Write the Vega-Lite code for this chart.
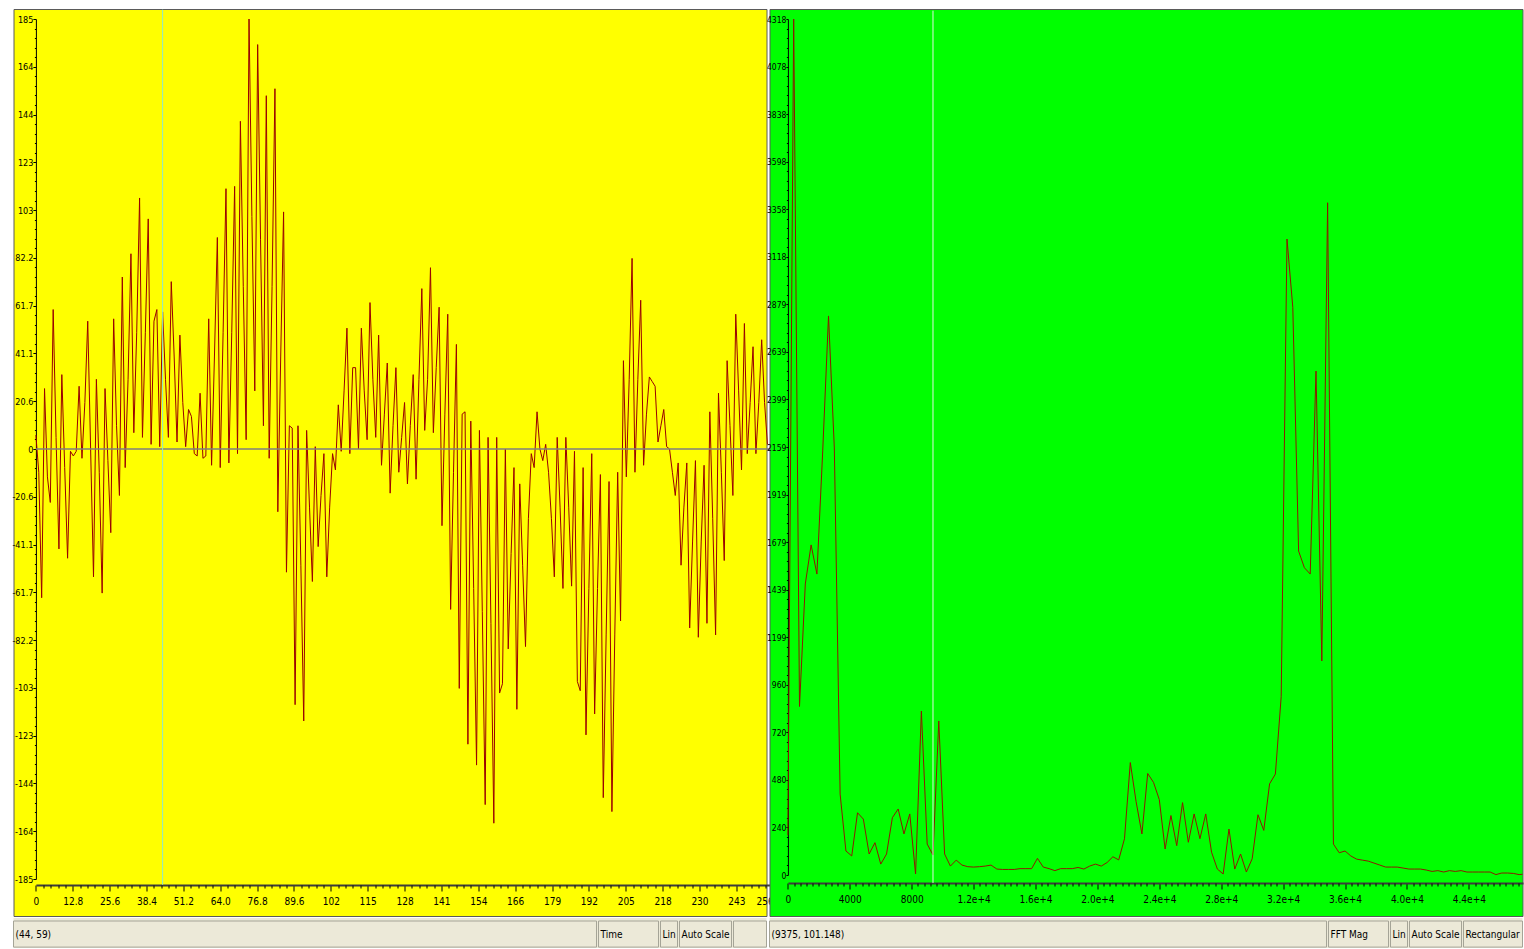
{
  "$schema": "https://vega.github.io/schema/vega-lite/v6.json",
  "background": "white",
  "padding": {"left": 10.5, "top": 8, "right": 0, "bottom": 0},
  "autosize": {"type": "pad"},
  "bounds": "flush",
  "columns": 2,
  "spacing": {"row": 2, "column": 3},
  "config": {
    "axis": {"grid": false, "labelFont": "DejaVu Sans Condensed, DejaVu Sans, sans-serif", "labelFontSize": 10, "labelColor": "#000000", "tickColor": "#000000", "domainColor": "#000000", "labelFlush": false, "labelBound": false},
    "view": {"stroke": null}
  },
  "datasets": {
    "ts": [
      {"t":0,"v":6},{"t":1,"v":-10},{"t":2,"v":-64},{"t":3,"v":26},{"t":4,"v":-12},{"t":5,"v":-23},{"t":6,"v":60},{"t":7,"v":5},{"t":8,"v":-43},{"t":9,"v":32},
      {"t":10,"v":-8},{"t":11,"v":-47},{"t":12,"v":-1},{"t":13,"v":-3},{"t":14,"v":-1},{"t":15,"v":27},{"t":16,"v":-4},{"t":17,"v":20},{"t":18,"v":55},{"t":19,"v":0},
      {"t":20,"v":-55},{"t":21,"v":30},{"t":22,"v":-10},{"t":23,"v":-62},{"t":24,"v":26},{"t":25,"v":-5},{"t":26,"v":-36},{"t":27,"v":56},{"t":28,"v":10},{"t":29,"v":-20},
      {"t":30,"v":74},{"t":31,"v":-8},{"t":32,"v":30},{"t":33,"v":84},{"t":34,"v":7},{"t":35,"v":50},{"t":36,"v":108},{"t":37,"v":5},{"t":38,"v":50},{"t":39,"v":99},
      {"t":40,"v":2},{"t":41,"v":55},{"t":42,"v":60},{"t":43,"v":1},{"t":44,"v":59},{"t":45,"v":30},{"t":46,"v":5},{"t":47,"v":72},{"t":48,"v":40},{"t":49,"v":3},
      {"t":50,"v":49},{"t":51,"v":20},{"t":52,"v":1},{"t":53,"v":17},{"t":54,"v":14},{"t":55,"v":-2},{"t":56,"v":-3},{"t":57,"v":24},{"t":58,"v":-4},{"t":59,"v":-3},
      {"t":60,"v":56},{"t":61,"v":-7},{"t":62,"v":40},{"t":63,"v":91},{"t":64,"v":-8},{"t":65,"v":50},{"t":66,"v":112},{"t":67,"v":-6},{"t":68,"v":50},{"t":69,"v":113},
      {"t":70,"v":-2},{"t":71,"v":141},{"t":72,"v":70},{"t":73,"v":4},{"t":74,"v":185},{"t":75,"v":100},{"t":76,"v":25},{"t":77,"v":174},{"t":78,"v":90},{"t":79,"v":10},
      {"t":80,"v":152},{"t":81,"v":-4},{"t":82,"v":70},{"t":83,"v":155},{"t":84,"v":-27},{"t":85,"v":40},{"t":86,"v":102},{"t":87,"v":-53},{"t":88,"v":10},{"t":89,"v":9},
      {"t":90,"v":-110},{"t":91,"v":10},{"t":92,"v":-50},{"t":93,"v":-117},{"t":94,"v":8},{"t":95,"v":-25},{"t":96,"v":-57},{"t":97,"v":1},{"t":98,"v":-42},{"t":99,"v":-20},
      {"t":100,"v":-2},{"t":101,"v":-55},{"t":102,"v":-25},{"t":103,"v":-2},{"t":104,"v":-9},{"t":105,"v":19},{"t":106,"v":-1},{"t":107,"v":25},{"t":108,"v":52},{"t":109,"v":-2},
      {"t":110,"v":35},{"t":111,"v":35},{"t":112,"v":0},{"t":113,"v":52},{"t":114,"v":25},{"t":115,"v":4},{"t":116,"v":63},{"t":117,"v":30},{"t":118,"v":5},{"t":119,"v":49},
      {"t":120,"v":-7},{"t":121,"v":15},{"t":122,"v":37},{"t":123,"v":-19},{"t":124,"v":10},{"t":125,"v":35},{"t":126,"v":-10},{"t":127,"v":5},{"t":128,"v":20},{"t":129,"v":-15},
      {"t":130,"v":10},{"t":131,"v":32},{"t":132,"v":-13},{"t":133,"v":30},{"t":134,"v":69},{"t":135,"v":8},{"t":136,"v":30},{"t":137,"v":78},{"t":138,"v":7},{"t":139,"v":35},
      {"t":140,"v":61},{"t":141,"v":-33},{"t":142,"v":15},{"t":143,"v":58},{"t":144,"v":-69},{"t":145,"v":-10},{"t":146,"v":45},{"t":147,"v":-103},{"t":148,"v":15},{"t":149,"v":16},
      {"t":150,"v":-127},{"t":151,"v":12},{"t":152,"v":-60},{"t":153,"v":-136},{"t":154,"v":8},{"t":155,"v":-70},{"t":156,"v":-153},{"t":157,"v":5},{"t":158,"v":-75},{"t":159,"v":-161},
      {"t":160,"v":5},{"t":161,"v":-105},{"t":162,"v":-101},{"t":163,"v":0},{"t":164,"v":-86},{"t":165,"v":-45},{"t":166,"v":-8},{"t":167,"v":-112},{"t":168,"v":-15},{"t":169,"v":-50},
      {"t":170,"v":-85},{"t":171,"v":-30},{"t":172,"v":-2},{"t":173,"v":-8},{"t":174,"v":16},{"t":175,"v":0},{"t":176,"v":-5},{"t":177,"v":2},{"t":178,"v":-10},{"t":179,"v":-30},
      {"t":180,"v":-55},{"t":181,"v":5},{"t":182,"v":-25},{"t":183,"v":-60},{"t":184,"v":5},{"t":185,"v":-25},{"t":186,"v":-59},{"t":187,"v":-1},{"t":188,"v":-100},{"t":189,"v":-104},
      {"t":190,"v":-8},{"t":191,"v":-123},{"t":192,"v":-60},{"t":193,"v":-2},{"t":194,"v":-114},{"t":195,"v":-60},{"t":196,"v":-11},{"t":197,"v":-150},{"t":198,"v":-80},{"t":199,"v":-14},
      {"t":200,"v":-156},{"t":201,"v":-80},{"t":202,"v":-10},{"t":203,"v":-74},{"t":204,"v":38},{"t":205,"v":-12},{"t":206,"v":30},{"t":207,"v":82},{"t":208,"v":-10},{"t":209,"v":30},
      {"t":210,"v":64},{"t":211,"v":-7},{"t":212,"v":15},{"t":213,"v":31},{"t":214,"v":29},{"t":215,"v":27},{"t":216,"v":3},{"t":217,"v":10},{"t":218,"v":17},{"t":219,"v":1},
      {"t":220,"v":0},{"t":221,"v":-10},{"t":222,"v":-20},{"t":223,"v":-6},{"t":224,"v":-50},{"t":225,"v":-25},{"t":226,"v":-6},{"t":227,"v":-77},{"t":228,"v":-40},{"t":229,"v":-5},
      {"t":230,"v":-81},{"t":231,"v":-40},{"t":232,"v":-7},{"t":233,"v":-75},{"t":234,"v":16},{"t":235,"v":-30},{"t":236,"v":-80},{"t":237,"v":24},{"t":238,"v":-10},{"t":239,"v":-48},
      {"t":240,"v":38},{"t":241,"v":10},{"t":242,"v":-20},{"t":243,"v":58},{"t":244,"v":25},{"t":245,"v":-9},{"t":246,"v":54},{"t":247,"v":-2},{"t":248,"v":20},{"t":249,"v":44},
      {"t":250,"v":-2},{"t":251,"v":20},{"t":252,"v":47},{"t":253,"v":20},{"t":254,"v":2}
    ],
    "fft": [
      {"f":0,"m":200},{"f":375,"m":4317.8},{"f":750,"m":850},{"f":1125,"m":1468},{"f":1500,"m":1665},{"f":1875,"m":1518},{"f":2250,"m":2139},{"f":2625,"m":2820},{"f":3000,"m":2154},{"f":3375,"m":408},
      {"f":3750,"m":121},{"f":4125,"m":96},{"f":4500,"m":314},{"f":4875,"m":282},{"f":5250,"m":106},{"f":5625,"m":163},{"f":6000,"m":55},{"f":6375,"m":106},{"f":6750,"m":289},{"f":7125,"m":333},
      {"f":7500,"m":207},{"f":7875,"m":308},{"f":8250,"m":5},{"f":8625,"m":827},{"f":9000,"m":156},{"f":9375,"m":101.148},{"f":9750,"m":777},{"f":10125,"m":106},{"f":10500,"m":45},{"f":10875,"m":75},
      {"f":11250,"m":50},{"f":11625,"m":42},{"f":12000,"m":40},{"f":12375,"m":42},{"f":12750,"m":45},{"f":13125,"m":50},{"f":13500,"m":30},{"f":13875,"m":28},{"f":14250,"m":28},{"f":14625,"m":28},
      {"f":15000,"m":32},{"f":15375,"m":32},{"f":15750,"m":32},{"f":16125,"m":84},{"f":16500,"m":40},{"f":16875,"m":32},{"f":17250,"m":22},{"f":17625,"m":32},{"f":18000,"m":32},{"f":18375,"m":32},
      {"f":18750,"m":38},{"f":19125,"m":30},{"f":19500,"m":45},{"f":19875,"m":55},{"f":20250,"m":45},{"f":20625,"m":63},{"f":21000,"m":92},{"f":21375,"m":76},{"f":21750,"m":183},{"f":22125,"m":567},
      {"f":22500,"m":370},{"f":22875,"m":207},{"f":23250,"m":512},{"f":23625,"m":467},{"f":24000,"m":380},{"f":24375,"m":131},{"f":24750,"m":300},{"f":25125,"m":148},{"f":25500,"m":365},{"f":25875,"m":165},
      {"f":26250,"m":308},{"f":26625,"m":183},{"f":27000,"m":308},{"f":27375,"m":115},{"f":27750,"m":30},{"f":28125,"m":5},{"f":28500,"m":232},{"f":28875,"m":30},{"f":29250,"m":106},{"f":29625,"m":15},
      {"f":30000,"m":82},{"f":30375,"m":304},{"f":30750,"m":225},{"f":31125,"m":460},{"f":31500,"m":509},{"f":31875,"m":900},{"f":32250,"m":3208},{"f":32625,"m":2863},{"f":33000,"m":1634},{"f":33375,"m":1550},
      {"f":33750,"m":1518},{"f":34125,"m":2542},{"f":34500,"m":1080},{"f":34875,"m":3391},{"f":35250,"m":156},{"f":35625,"m":112},{"f":36000,"m":121},{"f":36375,"m":96},{"f":36750,"m":80},{"f":37125,"m":75},
      {"f":37500,"m":70},{"f":37875,"m":60},{"f":38250,"m":50},{"f":38625,"m":40},{"f":39000,"m":40},{"f":39375,"m":40},{"f":39750,"m":35},{"f":40125,"m":30},{"f":40500,"m":30},{"f":40875,"m":30},
      {"f":41250,"m":25},{"f":41625,"m":18},{"f":42000,"m":22},{"f":42375,"m":15},{"f":42750,"m":22},{"f":43125,"m":18},{"f":43500,"m":22},{"f":43875,"m":15},{"f":44250,"m":15},{"f":44625,"m":15},
      {"f":45000,"m":15},{"f":45375,"m":15},{"f":45750,"m":2},{"f":46125,"m":10},{"f":46500,"m":10},{"f":46875,"m":8},{"f":47250,"m":2},{"f":47625,"m":5}
    ],
    "statusL": [
      {"a":0,"b":583,"label":"(44, 59)"},{"a":585,"b":645,"label":"Time"},{"a":647,"b":664,"label":"Lin"},{"a":666,"b":718,"label":"Auto Scale"},{"a":720,"b":753,"label":""}
    ],
    "statusR": [
      {"a":0,"b":557,"label":"(9375, 101.148)"},{"a":559,"b":619,"label":"FFT Mag"},{"a":621,"b":638,"label":"Lin"},{"a":640,"b":692,"label":"Auto Scale"},{"a":694,"b":753,"label":"Rectangular"}
    ]
  },
  "concat": [
    {
      "width": 753,
      "height": 907,
      "view": {"fill": "#ffff00", "stroke": "#5a5a5a", "strokeWidth": 1},
      "resolve": {"axis": {"x": "independent", "y": "independent"}},
      "layer": [
        {
          "data": {"name": "ts"},
          "mark": {"type": "line", "color": "#990000", "strokeWidth": 1},
          "encoding": {
            "x": {"field": "t", "type": "quantitative",
              "scale": {"domain": [0, 256], "range": [22.4, 759.7], "nice": false, "zero": false},
              "axis": {"orient": "bottom", "offset": -31, "title": null, "domainColor": "#3c3c3c", "domainWidth": 2,
                "values": [0,12.8,25.6,38.4,51.2,64,76.8,89.6,102.4,115.2,128,140.8,153.6,166.4,179.2,192,204.8,217.6,230.4,243.2,256],
                "tickSize": 6, "labelPadding": 5, "labelFontSize": 10,
                "labelAlign": {"condition": {"test": "datum.value > 255", "value": "right"}, "value": "center"},
                "labelExpr": "datum.value == 0 ? '0' : format(datum.value, '.3r')"
              }
            },
            "y": {"field": "v", "type": "quantitative",
              "scale": {"domain": [-185, 185], "range": [870, 10], "nice": false, "zero": false},
              "axis": {"orient": "left", "offset": -22.4, "title": null, "domainWidth": 1,
                "values": [-185,-164.444,-143.889,-123.333,-102.778,-82.222,-61.667,-41.111,-20.556,0,20.556,41.111,61.667,82.222,102.778,123.333,143.889,164.444,185],
                "tickSize": 3, "labelPadding": 0, "labelFontSize": 9,
                "labelExpr": "abs(datum.value) < 0.01 ? '0' : replace(format(datum.value, '.3r'), '\u2212', '-')"
              }
            }
          }
        },
        {
          "data": {"values": [{}]},
          "mark": {"type": "rule", "color": "#7f7f7f", "strokeWidth": 1.5},
          "encoding": {
            "x": {"datum": 0, "type": "quantitative",
              "axis": {"orient": "bottom", "offset": -31, "title": null, "domain": false, "labels": false, "tickSize": 3,
                "values": [2.56,5.12,7.68,10.24,15.36,17.92,20.48,23.04,28.16,30.72,33.28,35.84,40.96,43.52,46.08,48.64,53.76,56.32,58.88,61.44,66.56,69.12,71.68,74.24,79.36,81.92,84.48,87.04,92.16,94.72,97.28,99.84,104.96,107.52,110.08,112.64,117.76,120.32,122.88,125.44,130.56,133.12,135.68,138.24,143.36,145.92,148.48,151.04,156.16,158.72,161.28,163.84,168.96,171.52,174.08,176.64,181.76,184.32,186.88,189.44,194.56,197.12,199.68,202.24,207.36,209.92,212.48,215.04,220.16,222.72,225.28,227.84,232.96,235.52,238.08,240.64,245.76,248.32,250.88,253.44]}},
            "x2": {"datum": 256},
            "y": {"datum": 0, "type": "quantitative",
              "axis": {"orient": "left", "offset": -22.4, "title": null, "domain": false, "labels": false, "tickSize": 1.5,
                "values": [-180.889,-176.778,-172.667,-168.556,-160.333,-156.222,-152.111,-148,-139.778,-135.667,-131.556,-127.444,-119.222,-115.111,-111,-106.889,-98.667,-94.556,-90.444,-86.333,-78.111,-74,-69.889,-65.778,-57.556,-53.444,-49.333,-45.222,-37,-32.889,-28.778,-24.667,-16.444,-12.333,-8.222,-4.111,4.111,8.222,12.333,16.444,24.667,28.778,32.889,37,45.222,49.333,53.444,57.556,65.778,69.889,74,78.111,86.333,90.444,94.556,98.667,106.889,111,115.111,119.222,127.444,131.556,135.667,139.778,148,152.111,156.222,160.333,168.556,172.667,176.778,180.889]}}
          }
        },
        {
          "data": {"values": [{}]},
          "mark": {"type": "rule", "color": "#8ee8cc", "strokeWidth": 1},
          "encoding": {"x": {"datum": 44, "type": "quantitative", "axis": null}, "y": {"datum": 189, "type": "quantitative", "axis": null}, "y2": {"datum": -187.5}}
        }
      ]
    },
    {
      "width": 753,
      "height": 907,
      "view": {"fill": "#00ff00", "stroke": "#5a5a5a", "strokeWidth": 1},
      "resolve": {"axis": {"x": "independent", "y": "independent"}},
      "layer": [
        {
          "data": {"name": "fft"},
          "mark": {"type": "line", "color": "#8c1a00", "strokeWidth": 1, "clip": true},
          "encoding": {
            "x": {"field": "f", "type": "quantitative",
              "scale": {"domain": [0, 47500], "range": [18.4, 753.5], "nice": false, "zero": false},
              "axis": {"orient": "bottom", "offset": -33, "title": null, "domainColor": "#3c3c3c", "domainWidth": 2,
                "values": [0,4000,8000,12000,16000,20000,24000,28000,32000,36000,40000,44000],
                "tickSize": 6, "labelPadding": 5, "labelFontSize": 10,
                "labelExpr": "datum.value < 10000 ? format(datum.value, 'd') : format(datum.value, '.1e')"
              }
            },
            "y": {"field": "m", "type": "quantitative",
              "scale": {"domain": [0, 4317.8], "range": [866, 10], "nice": false, "zero": false},
              "axis": {"orient": "left", "offset": -18.4, "title": null, "domainWidth": 1,
                "values": [0,239.8778,479.7556,719.6333,959.5111,1199.3889,1439.2667,1679.1444,1919.0222,2158.9,2398.7778,2638.6556,2878.5333,3118.4111,3358.2889,3598.1667,3838.0444,4077.9222,4317.8],
                "tickSize": 2, "labelPadding": 0, "labelFontSize": 8.5,
                "labelExpr": "format(datum.value, '.0f')"
              }
            }
          }
        },
        {
          "data": {"values": [{}]},
          "mark": {"type": "rule", "color": "#dff5df", "strokeWidth": 1},
          "encoding": {
            "x": {"datum": 9375, "type": "quantitative",
              "axis": {"orient": "bottom", "offset": -33, "title": null, "domain": false, "labels": false, "tickSize": 3,
                "values": [400,800,1200,1600,2000,2400,2800,3200,3600,4400,4800,5200,5600,6000,6400,6800,7200,7600,8400,8800,9200,9600,10000,10400,10800,11200,11600,12400,12800,13200,13600,14000,14400,14800,15200,15600,16400,16800,17200,17600,18000,18400,18800,19200,19600,20400,20800,21200,21600,22000,22400,22800,23200,23600,24400,24800,25200,25600,26000,26400,26800,27200,27600,28400,28800,29200,29600,30000,30400,30800,31200,31600,32400,32800,33200,33600,34000,34400,34800,35200,35600,36400,36800,37200,37600,38000,38400,38800,39200,39600,40400,40800,41200,41600,42000,42400,42800,43200,43600,44400,44800,45200,45600,46000,46400,46800,47200]}},
            "y": {"datum": 4360, "type": "quantitative",
              "axis": {"orient": "left", "offset": -18.4, "title": null, "domain": false, "labels": false, "tickSize": 1.5,
                "values": [47.98,95.95,143.93,191.9,287.85,335.83,383.8,431.78,527.73,575.71,623.68,671.66,767.61,815.59,863.56,911.54,1007.49,1055.46,1103.44,1151.41,1247.36,1295.34,1343.32,1391.29,1487.24,1535.22,1583.19,1631.17,1727.12,1775.1,1823.07,1871.05,1967,2014.97,2062.95,2110.92,2206.88,2254.85,2302.83,2350.8,2446.75,2494.73,2542.7,2590.68,2686.63,2734.61,2782.58,2830.56,2926.51,2974.48,3022.46,3070.44,3166.39,3214.36,3262.34,3310.31,3406.26,3454.24,3502.22,3550.19,3646.14,3694.12,3742.09,3790.07,3886.02,3934,3981.97,4029.95,4125.9,4173.87,4221.85,4269.82]}},
            "y2": {"datum": -40}
          }
        }
      ]
    },
    {
      "width": 753,
      "height": 30,
      "data": {"name": "statusL"},
      "view": {"fill": "#ece9d8", "stroke": null},
      "layer": [
        {
          "mark": {"type": "rect", "fill": "#ece9d8", "stroke": "#a5a497", "strokeWidth": 1},
          "encoding": {
            "x": {"field": "a", "type": "quantitative", "scale": {"domain": [0, 753], "nice": false, "zero": false}, "axis": null},
            "x2": {"field": "b"},
            "y": {"datum": 0.03, "type": "quantitative", "scale": {"domain": [0, 1]}, "axis": null},
            "y2": {"datum": 0.9}
          }
        },
        {
          "mark": {"type": "text", "align": "left", "baseline": "middle", "dx": 2, "font": "DejaVu Sans Condensed, DejaVu Sans, sans-serif", "fontSize": 10, "color": "#000000"},
          "encoding": {
            "x": {"field": "a", "type": "quantitative"},
            "y": {"datum": 0.45, "type": "quantitative"},
            "text": {"field": "label"}
          }
        }
      ]
    },
    {
      "width": 753,
      "height": 30,
      "data": {"name": "statusR"},
      "view": {"fill": "#ece9d8", "stroke": null},
      "layer": [
        {
          "mark": {"type": "rect", "fill": "#ece9d8", "stroke": "#a5a497", "strokeWidth": 1},
          "encoding": {
            "x": {"field": "a", "type": "quantitative", "scale": {"domain": [0, 753], "nice": false, "zero": false}, "axis": null},
            "x2": {"field": "b"},
            "y": {"datum": 0.03, "type": "quantitative", "scale": {"domain": [0, 1]}, "axis": null},
            "y2": {"datum": 0.9}
          }
        },
        {
          "mark": {"type": "text", "align": "left", "baseline": "middle", "dx": 2, "font": "DejaVu Sans Condensed, DejaVu Sans, sans-serif", "fontSize": 10, "color": "#000000"},
          "encoding": {
            "x": {"field": "a", "type": "quantitative"},
            "y": {"datum": 0.45, "type": "quantitative"},
            "text": {"field": "label"}
          }
        }
      ]
    }
  ]
}
